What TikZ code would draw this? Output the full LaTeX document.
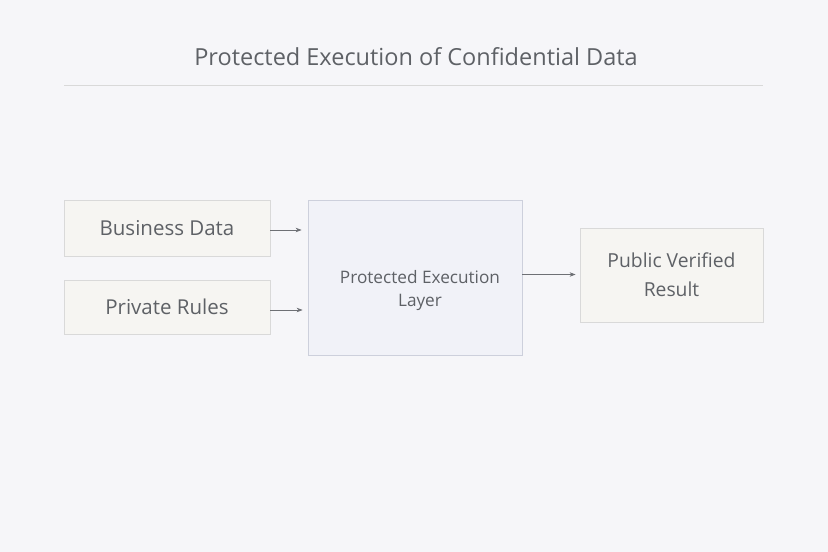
\documentclass[tikz,border=0pt]{standalone}
\usepackage{fontspec}
\setmainfont{Open Sans}
\usepackage{tikz}
\usetikzlibrary{arrows.meta,positioning}
\definecolor{bgcol}{HTML}{F6F6F9}
\definecolor{boxfill}{HTML}{F6F5F2}
\definecolor{boxline}{HTML}{D9D9D9}
\definecolor{layerfill}{HTML}{F1F2F8}
\definecolor{layerline}{HTML}{CDD0DC}
\definecolor{txtcol}{HTML}{5E6166}
\definecolor{arrcol}{HTML}{6E7075}

\begin{document}
\begin{tikzpicture}[x=1pt,y=-1pt,
    inbox/.style={draw=boxline,fill=boxfill,line width=0.8pt,text=txtcol,
      minimum width=206pt,font=\fontsize{20.5}{24}\selectfont},
    flow/.style={-{Stealth[length=6pt,width=4.5pt]},draw=arrcol,line width=0.7pt}]
    \fill [bgcol] (0,0) rectangle (828,552);
    \useasboundingbox (0,0) rectangle (828,552);
    \node (title) at (416,57) [text=txtcol,font=\fontsize{23.5}{27}\selectfont] {Protected Execution of Confidential Data};
    \draw [boxline,line width=0.8pt] (64,85)--(763,85);
    \node (data) at (167,228) [inbox,minimum height=56pt] {Business Data};
    \node (rules) at (167,307) [inbox,minimum height=54pt] {Private Rules};
    \node (layer) at (415,277.5) [draw=layerline,fill=layerfill,line width=0.8pt,
      minimum width=214pt,minimum height=155pt] {};
    \node (layertext) at (420,290.5) [text=txtcol,align=center,
      font=\fontsize{17.2}{23}\selectfont] {Protected Execution\\Layer};
    \node (result) at (671.5,275) [inbox,minimum width=183pt,minimum height=94pt,
      align=center,font=\fontsize{19.3}{29}\selectfont] {Public Verified\\Result};
    \draw [flow,shorten >=6pt] ([yshift=-2pt]data.east) -- ([yshift=-2pt]data.east -| layer.west);
    \draw [flow,shorten >=5pt] ([yshift=-3pt]rules.east) -- ([yshift=-3pt]rules.east -| layer.west);
    \draw [flow,shorten >=4pt] ([yshift=3pt]layer.east) -- ([yshift=3pt]layer.east -| result.west);
  \end{tikzpicture}
\end{document}
